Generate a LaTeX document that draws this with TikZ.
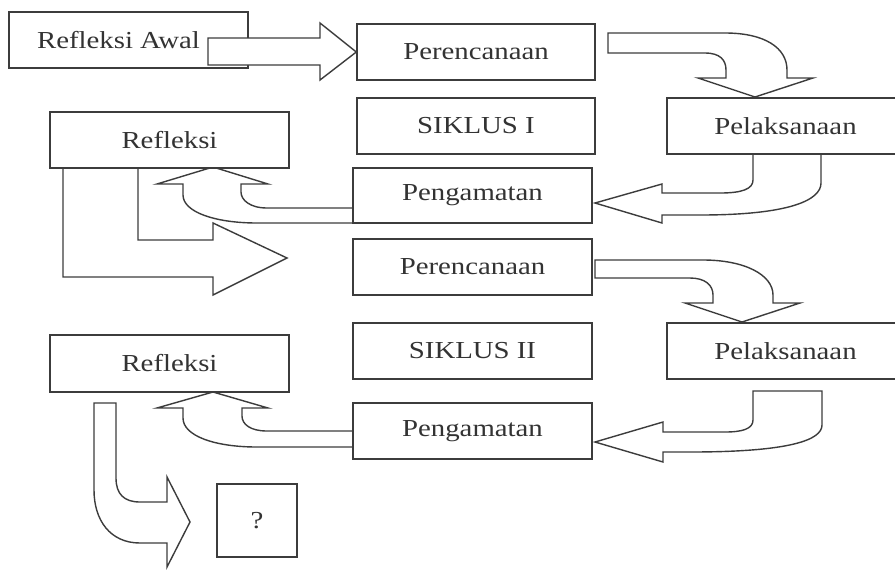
\documentclass[tikz,border=0pt]{standalone}
\usepackage{fontspec}
\setmainfont[FakeStretch=1.18]{Liberation Serif}
\definecolor{lc}{HTML}{3C3C3C}
\definecolor{tc}{HTML}{333333}
\tikzset{
  bx/.style 2 args={draw=lc, fill=white, line width=1.05pt, minimum width=#1*0.75pt,
    minimum height=#2*0.75pt, inner sep=0pt, font=\fontsize{18.3}{20}\selectfont, text=tc},
  blk/.style={draw=lc, fill=white, line width=1.05pt, line join=miter},
}
\begin{document}
\begin{tikzpicture}[x=0.75pt,y=-0.75pt]
\path[use as bounding box] (0,0) rectangle (895,569);
\clip (0,0) rectangle (895,569);
\fill[white] (0,0) rectangle (895,569);

% block arrows that start at box edges (drawn beneath the boxes)
% Perencanaan I -> Pelaksanaan I
\draw[blk] (608,33) -- (725,33) .. controls (765,33) and (787,48) .. (787,70) -- (787,78)
  -- (813,78) -- (755,97) -- (698,78) -- (726,78) -- (726,70)
  .. controls (726,60) and (720,53) .. (705,53) -- (608,53) -- cycle;
% Perencanaan II -> Pelaksanaan II
\draw[blk] (595,260) -- (703,260) .. controls (745,260) and (773,275) .. (773,295) -- (773,303)
  -- (800,303) -- (742,322) -- (685,303) -- (713,303) -- (713,295)
  .. controls (713,285) and (705,278) .. (690,278) -- (595,278) -- cycle;
% Pelaksanaan I -> Pengamatan I
\draw[blk] (753,154) -- (753,180) .. controls (753,189) and (742,193) .. (720,193) -- (662,193)
  -- (662,184) -- (595,203) -- (662,223) -- (662,215) -- (700,215)
  .. controls (790,215) and (821,200) .. (821,183) -- (821,154) -- cycle;
% Pelaksanaan II -> Pengamatan II
\draw[blk] (753,391) -- (753,420) .. controls (753,429) and (742,432) .. (725,432) -- (663,432)
  -- (663,422) -- (595,442) -- (663,462) -- (663,452) -- (690,452)
  .. controls (790,452) and (822,440) .. (822,425) -- (822,391) -- cycle;
% Pengamatan I -> Refleksi I
\draw[blk] (353,208) -- (267,208) .. controls (250,208) and (241,200) .. (241,192) -- (241,184)
  -- (268,184) -- (213,167) -- (157,184) -- (183,184) -- (183,195)
  .. controls (183,212) and (215,223) .. (257,223) -- (353,223) -- cycle;
% Pengamatan II -> Refleksi II
\draw[blk] (353,431) -- (267,431) .. controls (250,431) and (242,424) .. (242,416) -- (242,408)
  -- (268,408) -- (213,392) -- (157,408) -- (183,408) -- (183,418)
  .. controls (183,436) and (215,447) .. (257,447) -- (353,447) -- cycle;
% Refleksi I -> Perencanaan II
\draw[blk] (63,168) -- (63,277) -- (213,277) -- (213,295) -- (287,258) -- (213,223)
  -- (213,240) -- (138,240) -- (138,168) -- cycle;
% Refleksi II -> ?
\draw[blk] (94,403) -- (116,403) -- (116,478) .. controls (116,494) and (124,502) .. (140,502)
  -- (167,502) -- (167,477) -- (190,522) -- (167,567) -- (167,543) -- (140,543)
  .. controls (110,543) and (94,520) .. (94,490) -- cycle;

% boxes
\node[bx={239}{56}] (ra) at (128.5,40) {Refleksi Awal\hspace*{15pt}};
\node[bx={238}{56}] (p1) at (476,52) {Perencanaan};
\node[bx={238}{56}] (s1) at (476,126) {SIKLUS I};
\node[bx={239}{55}] (g1) at (472.5,195.5) {Pengamatan};
\node[bx={239}{56}] (p2) at (472.5,267) {Perencanaan};
\node[bx={239}{56}] (s2) at (472.5,351) {SIKLUS II};
\node[bx={239}{56}] (g2) at (472.5,431) {Pengamatan};
\node[bx={239}{56}] (r1) at (169.5,140) {Refleksi};
\node[bx={239}{57}] (r2) at (169.5,363.5) {Refleksi};
\node[bx={80}{73}] (q) at (257,520.5) {?};
\node[bx={237}{56}] (l1) at (785.5,126) {Pelaksanaan};
\node[bx={237}{56}] (l2) at (785.5,351) {Pelaksanaan};

% Refleksi Awal -> Perencanaan I (drawn over its box)
\draw[blk] (208,38) -- (320,38) -- (320,23) -- (p1.west) -- (320,80) -- (320,65) -- (208,65) -- cycle;
\end{tikzpicture}
\end{document}
